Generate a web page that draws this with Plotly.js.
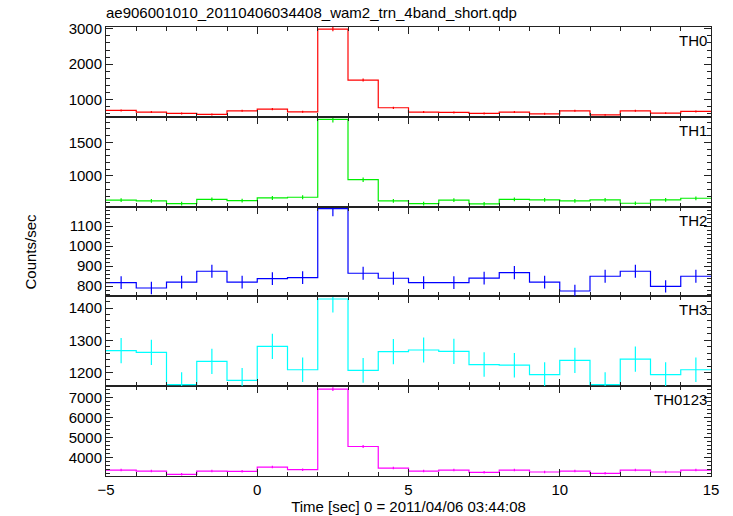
<!DOCTYPE html>
<html>
<head>
<meta charset="utf-8">
<script src="https://cdn.plot.ly/plotly-3.0.1.min.js"></script>
<style>html,body{margin:0;padding:0;background:#fff;}#chart{width:733px;height:516px;}</style>
</head>
<body>
<div id="chart"></div>
<script>
// Time bin edges (sec) and bin centres
const binEdges = [-5,-4,-3,-2,-1,0,1,2,3,4,5,6,7,8,9,10,11,12,13,14,15];
const binCenters = [-4.5,-3.5,-2.5,-1.5,-0.5,0.5,1.5,2.5,3.5,4.5,5.5,6.5,7.5,8.5,9.5,10.5,11.5,12.5,13.5,14.5];

// Count rates (counts/sec) per band
const th0 = [700,653,615,587,690,737,662,2990,1554,775, 653,643,615,653,606,690,577,690,624,671];
const th0Err = [29,28,27,27,29,30,28,60,43,31, 28,28,27,28,27,29,26,29,27,28];

const th1 = [639,629,589,653,634,673,683,1842,945,629, 589,639,584,653,644,629,644,594,644,668];
const th1Err = [28,28,27,28,28,29,29,47,34,28, 27,28,27,28,28,28,28,27,28,28];

const th2 = [817,790,820,874,820,837,842,1188,864,839, 817,817,840,867,820,775,849,874,798,849];
const th2Err = [32,31,32,33,32,32,32,38,32,32, 32,32,32,33,32,31,32,33,31,32];

const th3 = [1268,1263,1163,1235,1176,1281,1209,1428,1207,1265, 1270,1266,1225,1223,1194,1238,1163,1242,1194,1209];
const th3Err = [39,39,38,39,38,39,38,42,38,39, 39,39,38,38,38,39,38,39,38,38];

const th0123 = [3367,3317,3150,3317,3300,3517,3383,7433,4550,3467, 3317,3367,3250,3367,3267,3317,3200,3367,3267,3367];
const th0123Err = [64,63,62,63,63,65,64,95,74,65, 63,64,63,64,63,63,62,64,63,64];

const panelNames = ["TH0","TH1","TH2","TH3","TH0123"];
const panelColors = ["#ff0000","#00ee00","#0000ff","#00ffff","#ff00ff"];
const panelRanges = [[521,3048],[544,1881],[748,1198],[1158,1436],[3067,7583]];
const panelDtick = [1000,500,100,100,1000];
const panelMinor = [200,100,20,20,200];
const titleText = "ae906001010_20110406034408_wam2_trn_4band_short.qdp";
const xTitle = "Time [sec] 0 = 2011/04/06 03:44:08";
const yTitle = "Counts/sec";

const series = [th0,th1,th2,th3,th0123];
const errors = [th0Err,th1Err,th2Err,th3Err,th0123Err];

const FONT = "Liberation Sans, Arial, Helvetica, sans-serif";
const AXC = "#222";
const traces = [];
const layout = {
  width: 733, height: 516,
  margin: {l:106, r:22, t:27, b:40},
  paper_bgcolor: "#fff", plot_bgcolor: "#fff",
  showlegend: false,
  font: {family: FONT, size: 15, color: "#000"},
  title: {text: titleText, x: 0, xref: "paper", xanchor: "left", y: 1 - 13/516, yref: "container", yanchor: "middle", font: {family: FONT, size: 15, color: "#000"}},
  annotations: []
};

// Panel 0 = top. Bottom panel uses x/y.
for (let k = 0; k < 5; k++) {
  const idx = 5 - k;
  const xa = idx === 1 ? "x" : "x" + idx;
  const ya = idx === 1 ? "y" : "y" + idx;
  const xKey = idx === 1 ? "xaxis" : "xaxis" + idx;
  const yKey = idx === 1 ? "yaxis" : "yaxis" + idx;
  const vals = series[k];
  traces.push({
    type: "scatter", mode: "lines", xaxis: xa, yaxis: ya,
    x: binEdges, y: vals.concat([vals[vals.length-1]]),
    line: {shape: "hv", color: panelColors[k], width: 1.2},
    hoverinfo: "skip"
  });
  traces.push({
    type: "scatter", mode: "markers", xaxis: xa, yaxis: ya,
    x: binCenters, y: vals,
    marker: {size: 1, color: "rgba(0,0,0,0)"},
    error_y: {type: "data", array: errors[k], visible: true, color: panelColors[k], thickness: 1.2, width: 0}
  });
  layout[xKey] = {
    domain: [0,1], anchor: ya, range: [-5,15],
    tick0: 0, dtick: 5, ticks: "inside", ticklen: 7, tickcolor: AXC, tickwidth: 1,
    minor: {dtick: 1, tick0: 0, ticks: "inside", ticklen: 4, tickcolor: AXC, tickwidth: 1, showgrid: false},
    mirror: "allticks", showline: true, linecolor: AXC, linewidth: 1,
    showgrid: false, zeroline: false,
    showticklabels: idx === 1,
    tickfont: {family: FONT, size: 15, color: "#000"}
  };
  if (idx === 1) {
    layout[xKey].title = {text: xTitle, standoff: 2, font: {family: FONT, size: 15, color: "#000"}};
  } else {
    layout[xKey].matches = "x";
  }
  layout[yKey] = {
    domain: [(idx-1)/5, idx/5], anchor: xa, range: panelRanges[k],
    tick0: 0, dtick: panelDtick[k], ticks: "inside", ticklen: 7, tickcolor: AXC, tickwidth: 1,
    minor: {dtick: panelMinor[k], tick0: 0, ticks: "inside", ticklen: 4, tickcolor: AXC, tickwidth: 1, showgrid: false},
    mirror: "allticks", showline: true, linecolor: AXC, linewidth: 1,
    showgrid: false, zeroline: false,
    tickfont: {family: FONT, size: 15, color: "#000"}
  };
  layout.annotations.push({
    text: panelNames[k], showarrow: false,
    xref: "paper", x: 1, xanchor: "right", xshift: -2,
    yref: ya + " domain", y: 1, yanchor: "top", yshift: -3,
    font: {family: FONT, size: 15, color: "#000"}
  });
}
layout.annotations.push({
  text: yTitle, showarrow: false, textangle: -90,
  xref: "paper", x: 0, xanchor: "center", xshift: -76,
  yref: "paper", y: 0.5, yanchor: "middle",
  font: {family: FONT, size: 15, color: "#000"}
});

Plotly.newPlot("chart", traces, layout, {staticPlot: true, displayModeBar: false});
</script>
</body>
</html>
